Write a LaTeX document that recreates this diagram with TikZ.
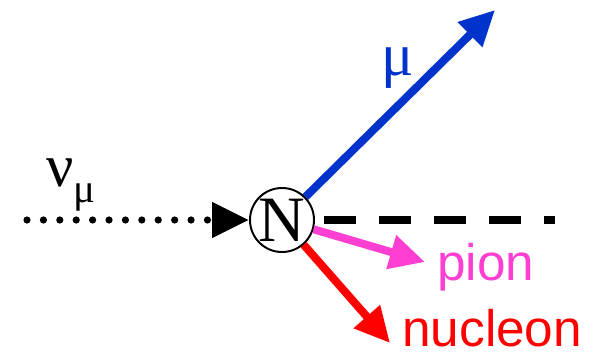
\documentclass[tikz,border=0pt]{standalone}
\usepackage{fontspec}
\setmainfont{Liberation Sans}
\newfontfamily\greekfont{Liberation Serif}
\usepackage{tikz}
\usetikzlibrary{arrows.meta,positioning}
\definecolor{muon}{HTML}{0033CC}
\definecolor{pion}{HTML}{FF3FD2}
\definecolor{nucleon}{HTML}{FF0000}
\tikzset{
  vertex/.style={draw=black, fill=white, circle, line width=1.4pt, minimum size=1.6cm,
                 inner sep=0pt, font=\greekfont\fontsize{46}{46}\selectfont},
  track/.style={line width=0.2cm, -{Triangle[length=0.88cm,width=0.83cm]}},
  beam/.style={line width=0.18cm, line cap=round, dash pattern=on 0pt off 0.41cm,
               -{Triangle[length=0.92cm,width=0.85cm]}},
  recoil/.style={line width=0.2cm, dash pattern=on 0.8cm off 0.575cm},
  partlabel/.style={font=\fontsize{36.5}{36.5}\selectfont, inner sep=0pt},
  greeklabel/.style={font=\greekfont\fontsize{43}{43}\selectfont, inner sep=0pt}
}

\begin{document}
\begin{tikzpicture}[x=0.025cm,y=-0.025cm]
    \useasboundingbox (0,0) rectangle (597,355);
    % ===== interaction vertex =====
    \node[vertex] (N) at (282,220) {N};

    % ===== incoming neutrino =====
    \coordinate (nustart) at (27,220);
    \draw[beam] (nustart) -- (N.west);
    \node[greeklabel,anchor=base west] (nulabel) at (46,186)
      {ν\raisebox{-12pt}{\fontsize{29}{29}\selectfont μ}};

    % ===== outgoing particles =====
    \coordinate (mutip) at (495,10);
    \coordinate (pitip) at (425,262);
    \coordinate (ntip) at (390,343);
    \coordinate (dashend) at (555,220);
    \draw[track,draw=muon,fill=muon] (N) -- (mutip);
    \draw[track,draw=pion,fill=pion] (N) -- (pitip);
    \draw[track,draw=nucleon,fill=nucleon] (N) -- (ntip);
    \draw[recoil,shorten <=0.225cm] (N.east) -- (dashend);

    % ===== labels =====
    \node[greeklabel,text=muon] (mulabel) at (398,68) {μ};
    \node[partlabel,text=pion,anchor=base west] (pilabel) at (437,280) {pion};
    \node[partlabel,text=nucleon,anchor=base west] (nlabel) at (402,346) {nucleon};
\end{tikzpicture}
\end{document}
